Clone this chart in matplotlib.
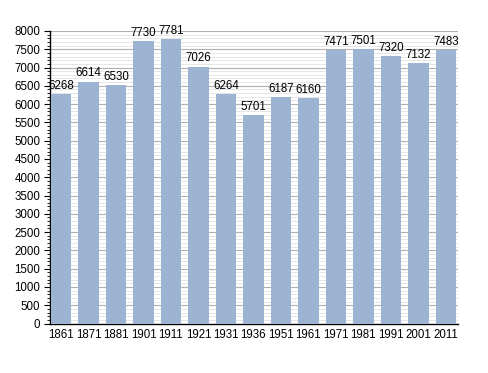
import matplotlib
matplotlib.use("Agg")
import matplotlib.pyplot as plt
import numpy as np

years = ["1861", "1871", "1881", "1901", "1911", "1921", "1931", "1936",
         "1951", "1961", "1971", "1981", "1991", "2001", "2011"]
population = [6268, 6614, 6530, 7730, 7781, 7026, 6264, 5701,
              6187, 6160, 7471, 7501, 7320, 7132, 7483]

plt.rcParams['font.family'] = ['Liberation Sans', 'DejaVu Sans']

fig = plt.figure(figsize=(4.88, 3.73), dpi=100)
ax = fig.add_axes([0.1025, 0.1327, 0.836, 0.7843])

x = np.arange(len(years))
ax.bar(x, population, width=0.74, color="#9cb4d2", zorder=3)

for xi, v in zip(x, population):
    ax.text(xi, v + 60, str(v), ha="center", va="bottom", fontsize=8.3, color="black", zorder=4)

ax.set_xlim(-0.4, 14.44)
ax.set_ylim(0, 8000)
ax.set_yticks(np.arange(0, 8001, 500))
ax.set_yticks(np.arange(0, 8001, 100), minor=True)
ax.set_xticks(x)
ax.set_xticklabels(years)

ax.grid(True, which="major", axis="y", color="#b0b0b0", linewidth=0.8, zorder=1)
ax.grid(True, which="minor", axis="y", color="#e2e2e2", linewidth=0.6, zorder=0)

for s in ["top", "right"]:
    ax.spines[s].set_visible(False)
ax.spines["left"].set_color("black")
ax.spines["bottom"].set_color("black")
ax.spines["left"].set_linewidth(1.0)
ax.spines["bottom"].set_linewidth(1.0)

ax.tick_params(axis="x", length=0, labelsize=8.3, pad=4)
ax.tick_params(axis="y", which="major", length=4, width=0.8, labelsize=8.3, direction="out", pad=3)
ax.tick_params(axis="y", which="minor", length=2, width=0.6, direction="out")

fig.savefig("out.png", dpi=100)
